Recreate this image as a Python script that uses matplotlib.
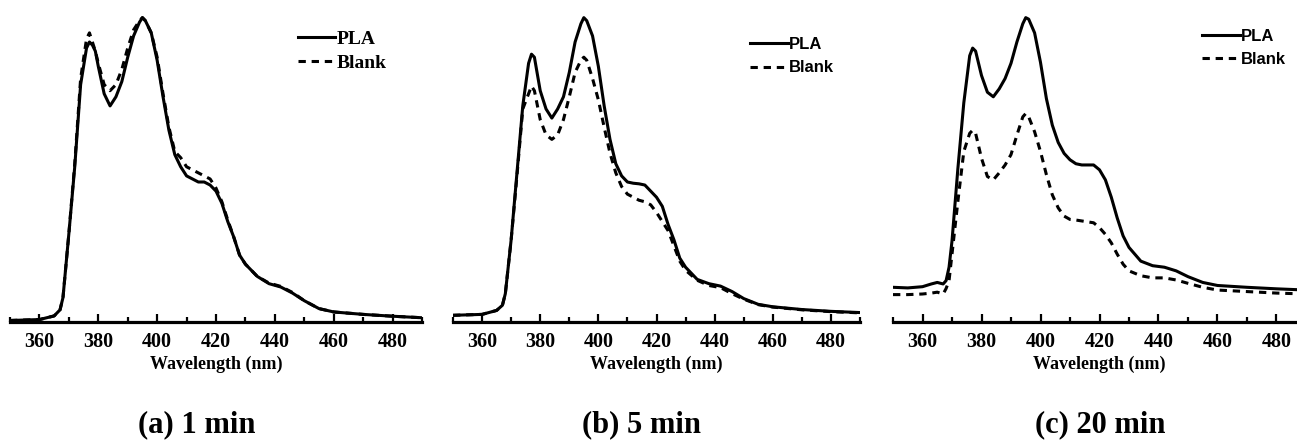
import numpy as np
import matplotlib.pyplot as plt

# wavelength grids (nm) and relative intensities
wl_a = [350, 360, 365, 367, 368, 370, 372, 374, 376, 377, 378, 379, 380, 382, 384, 386, 388, 390,
        392, 394, 395, 396, 398, 400, 402, 404, 406, 408, 410, 412, 414, 416, 418, 420, 422, 424,
        426, 428, 430, 434, 438, 442, 446, 450, 455, 460, 470, 480, 490]
pla_a = [0.005, 0.008, 0.02, 0.04, 0.08, 0.29, 0.51, 0.78, 0.90, 0.92, 0.91, 0.89, 0.84, 0.75, 0.71,
         0.74, 0.79, 0.87, 0.94, 0.985, 1.0, 0.99, 0.95, 0.86, 0.74, 0.63, 0.55, 0.51, 0.48, 0.47,
         0.46, 0.46, 0.45, 0.43, 0.39, 0.33, 0.28, 0.22, 0.19, 0.15, 0.126, 0.115, 0.095, 0.07,
         0.044, 0.033, 0.025, 0.019, 0.014]
blank_a = [0.005, 0.008, 0.02, 0.04, 0.08, 0.29, 0.52, 0.80, 0.93, 0.95, 0.92, 0.89, 0.85, 0.78, 0.76,
           0.78, 0.83, 0.90, 0.96, 0.99, 1.0, 0.99, 0.95, 0.87, 0.75, 0.64, 0.56, 0.54, 0.51, 0.50,
           0.49, 0.48, 0.47, 0.44, 0.395, 0.335, 0.28, 0.22, 0.19, 0.15, 0.128, 0.117, 0.097, 0.07,
           0.044, 0.033, 0.025, 0.019, 0.014]

wl_b = [350, 360, 365, 367, 368, 370, 372, 374, 376, 377, 378, 380, 382, 384, 386, 388, 390, 392,
        394, 395, 396, 398, 400, 402, 404, 406, 408, 410, 412, 414, 416, 418, 420, 422, 424, 426,
        428, 430, 434, 438, 442, 446, 450, 455, 460, 470, 480, 490]
pla_b = [0.022, 0.025, 0.038, 0.055, 0.093, 0.27, 0.49, 0.71, 0.85, 0.88, 0.87, 0.76, 0.70, 0.67,
         0.70, 0.74, 0.82, 0.92, 0.98, 1.0, 0.99, 0.94, 0.84, 0.71, 0.60, 0.52, 0.48, 0.46, 0.456,
         0.454, 0.45, 0.43, 0.41, 0.38, 0.32, 0.27, 0.21, 0.18, 0.14, 0.126, 0.118, 0.10, 0.077,
         0.058, 0.05, 0.041, 0.035, 0.031]
blank_b = [0.022, 0.025, 0.038, 0.055, 0.093, 0.27, 0.48, 0.70, 0.75, 0.775, 0.76, 0.665, 0.615, 0.60,
           0.615, 0.665, 0.74, 0.82, 0.86, 0.87, 0.86, 0.80, 0.73, 0.64, 0.555, 0.49, 0.445, 0.42,
           0.41, 0.40, 0.395, 0.385, 0.36, 0.33, 0.30, 0.25, 0.20, 0.17, 0.137, 0.12, 0.113, 0.093,
           0.075, 0.057, 0.049, 0.04, 0.034, 0.03]

wl_c = [350, 355, 360, 363, 365, 367, 368, 369, 370, 372, 374, 376, 377, 378, 380, 382, 384, 386,
        388, 390, 392, 394, 395, 396, 398, 400, 402, 404, 406, 408, 410, 412, 414, 416, 418, 420,
        422, 424, 426, 428, 430, 434, 438, 442, 446, 450, 455, 460, 470, 480, 490]
pla_c = [0.114, 0.112, 0.116, 0.125, 0.13, 0.125, 0.136, 0.18, 0.266, 0.505, 0.72, 0.875, 0.90, 0.89,
         0.81, 0.755, 0.74, 0.766, 0.80, 0.85, 0.92, 0.98, 1.0, 0.995, 0.95, 0.853, 0.734, 0.647,
         0.59, 0.554, 0.533, 0.52, 0.516, 0.516, 0.516, 0.50, 0.467, 0.41, 0.342, 0.283, 0.245,
         0.20, 0.185, 0.18, 0.168, 0.149, 0.13, 0.12, 0.114, 0.109, 0.105]
blank_c = [0.09, 0.09, 0.092, 0.095, 0.098, 0.092, 0.11, 0.136, 0.223, 0.397, 0.56, 0.62, 0.63, 0.62,
           0.538, 0.478, 0.467, 0.49, 0.516, 0.55, 0.614, 0.674, 0.685, 0.674, 0.625, 0.56, 0.484,
           0.418, 0.375, 0.348, 0.337, 0.335, 0.332, 0.329, 0.326, 0.31, 0.288, 0.26, 0.223, 0.19,
           0.168, 0.152, 0.145, 0.145, 0.138, 0.127, 0.114, 0.105, 0.10, 0.095, 0.092]

titles = ['(a) 1 min', '(b) 5 min', '(c) 20 min']
labels = ['PLA', 'Blank']

W, H = 1297, 440
fig = plt.figure(figsize=(W / 100, H / 100), dpi=100)

# axes boxes in pixels: left, right
boxes = [(10, 422), (453, 860), (893, 1306)]
title_x = [197, 642, 1100]
legend_x = [0.70, 0.73, 0.748]
legend_y = [0.905, 0.885, 0.91]
legend_font = [dict(family='Liberation Serif', weight='bold', size=14),
               dict(family='Liberation Sans', weight='bold', size=12),
               dict(family='Liberation Sans', weight='bold', size=12)]
data = [(wl_a, pla_a, blank_a), (wl_b, pla_b, blank_b), (wl_c, pla_c, blank_c)]

for i, (l, r) in enumerate(boxes):
    ax = fig.add_axes([l / W, (H - 322) / H, (r - l) / W, 322 / H])
    wl, pla, blank = data[i]
    ax.plot(wl, pla, color='black', lw=2.2, label=labels[0])
    ax.plot(wl, blank, color='black', lw=2.2, dashes=(2.4, 1.9), label=labels[1])
    ax.set_xlim(350, 490)
    ax.set_ylim(0, 1.058)
    for s in ['left', 'right', 'top']:
        ax.spines[s].set_visible(False)
    ax.spines['bottom'].set_linewidth(2.3)
    ax.set_yticks([])
    ax.set_xticks(np.arange(360, 481, 20))
    ax.set_xticks(np.arange(350, 491, 10), minor=True)
    ax.tick_params(axis='x', which='major', direction='in', length=6, width=1.6, pad=7)
    ax.tick_params(axis='x', which='minor', direction='in', length=3.5, width=1.6)
    for t in ax.get_xticklabels():
        t.set_fontfamily('Liberation Serif')
        t.set_fontweight('bold')
        t.set_fontsize(14.5)
    ax.set_xlabel('Wavelength (nm)', family='Liberation Serif', weight='bold', fontsize=13, labelpad=3)
    ax.legend(loc='upper left', bbox_to_anchor=(legend_x[i], legend_y[i]), frameon=False,
              prop=legend_font[i], handlelength=1.9 if i == 0 else 2.3,
              handletextpad=0.05, labelspacing=0.3 if i == 0 else 0.5, borderpad=0,
              borderaxespad=0)
    fig.text(title_x[i] / W, (H - 425) / H, titles[i], family='Liberation Serif', weight='bold',
             fontsize=22, ha='center', va='center')

fig.savefig('out.png', dpi=100)
